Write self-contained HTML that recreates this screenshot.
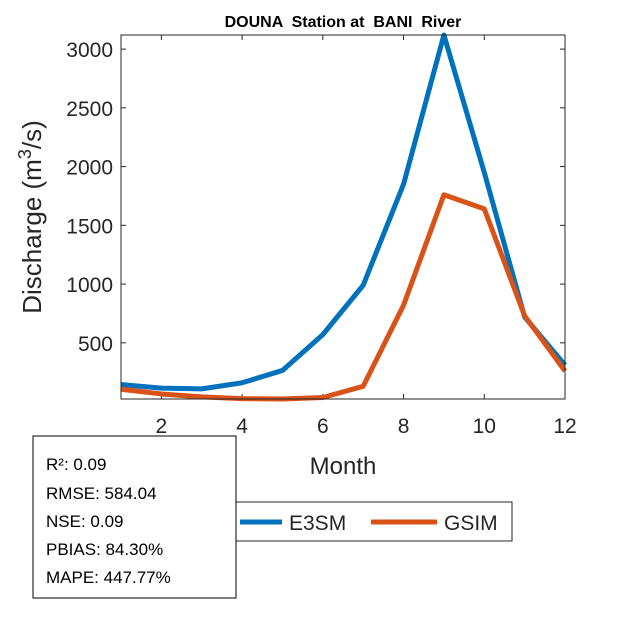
<!DOCTYPE html>
<html><head><meta charset="utf-8"><style>
body{margin:0;background:#fff;}
svg{font-family:"Liberation Sans",Arial,sans-serif;}
</style></head><body>
<svg id="chart" width="625" height="625">
<rect x="0" y="0" width="625" height="625" fill="#fff"/>
<text x="343" y="27" text-anchor="middle" font-size="16" font-weight="bold" style="white-space:pre">DOUNA  Station at  BANI  River</text>
<g id="axes"></g>
<text transform="translate(41,217) rotate(-90)" text-anchor="middle" font-size="26" fill="#262626">Discharge (m<tspan dy="-10" font-size="18">3</tspan><tspan dy="10">/s)</tspan></text>
<text x="343" y="474" text-anchor="middle" font-size="24" fill="#262626">Month</text>
<g>
<rect x="233" y="502" width="279" height="39" fill="#fff" stroke="#262626" stroke-width="1"/>
<line x1="240" y1="522" x2="282" y2="522" stroke="#0072BD" stroke-width="5"/>
<text x="289" y="530" font-size="21" fill="#262626">E3SM</text>
<line x1="371" y1="522" x2="437" y2="522" stroke="#D95319" stroke-width="5"/>
<text x="444" y="530" font-size="21" fill="#262626">GSIM</text>
</g>
<g>
<rect x="33" y="436" width="203" height="162" fill="#fff" stroke="#000" stroke-width="1"/>
<text x="46" y="470" font-size="17">R²: 0.09</text>
<text x="46" y="499" font-size="17">RMSE: 584.04</text>
<text x="46" y="527" font-size="17">NSE: 0.09</text>
<text x="46" y="555" font-size="17">PBIAS: 84.30%</text>
<text x="46" y="583" font-size="17">MAPE: 447.77%</text>
</g>
</svg>
<script>
const months=[1,2,3,4,5,6,7,8,9,10,11,12];
const e3sm=[145,115,108,160,265,570,990,1850,3120,1950,720,310];
const gsim=[105,65,40,25,22,35,130,820,1760,1640,730,260];
const xTicks=[2,4,6,8,10,12];
const yTicks=[500,1000,1500,2000,2500,3000];
const L=121,R=565,T=35,B=399;
const xMin=1,xMax=12,yMin=22,yMax=3120;
const sx=v=>L+(v-xMin)/(xMax-xMin)*(R-L);
const sy=v=>B-(v-yMin)/(yMax-yMin)*(B-T);
const NS='http://www.w3.org/2000/svg';
const g=document.getElementById('axes');
function mk(t,a){const e=document.createElementNS(NS,t);for(const k in a)e.setAttribute(k,a[k]);g.appendChild(e);return e;}
xTicks.forEach(v=>{const x=sx(v);
const t1=mk('line',{x1:x,y1:B,x2:x,y2:B-5,stroke:'#262626'});


const t2=mk('line',{x1:x,y1:T,x2:x,y2:T+5,stroke:'#262626'});


const tx=mk('text',{x:x,y:B+34,'text-anchor':'middle','font-size':21,fill:'#262626'});tx.textContent=v;

});
yTicks.forEach(v=>{const y=sy(v);
const t1=mk('line',{x1:L,y1:y,x2:L+5,y2:y,stroke:'#262626'});


const t2=mk('line',{x1:R,y1:y,x2:R-5,y2:y,stroke:'#262626'});


const tx=mk('text',{x:L-8,y:y+8,'text-anchor':'end','font-size':21,fill:'#262626'});tx.textContent=v;

});
function line(d,c,n){const p=mk('polyline',{points:months.map((m,i)=>sx(m)+','+sy(d[i])).join(' '),fill:'none',stroke:c,'stroke-width':5,'stroke-linejoin':'round'});

}
line(e3sm,'#0072BD','series-e3sm');
line(gsim,'#D95319','series-gsim');
const box=mk('rect',{x:L,y:T,width:R-L,height:B-T,fill:'none',stroke:'#262626','stroke-width':1});


</script>
</body></html>
